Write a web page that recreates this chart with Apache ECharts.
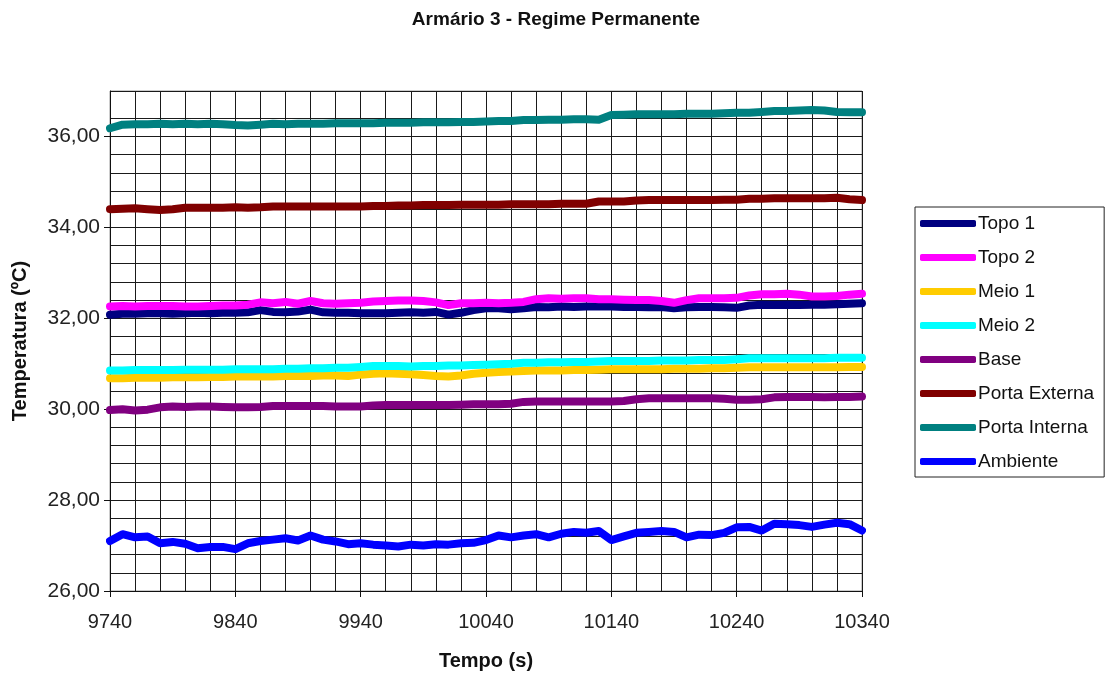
<!DOCTYPE html>
<html>
<head>
<meta charset="utf-8">
<script src="https://cdn.jsdelivr.net/npm/echarts@6/dist/echarts.min.js"></script>
<style>
html,body{margin:0;padding:0;background:#fff;}
#chart{width:1109px;height:673px;}
</style>
</head>
<body>
<div id="chart"></div>
<script>
const title = 'Armário 3 - Regime Permanente';
const xName = 'Tempo (s)';
const yName = 'Temperatura (ºC)';
const xTickLabels = [9740, 9840, 9940, 10040, 10140, 10240, 10340];
const yTickLabels = [26, 28, 30, 32, 34, 36];
const tempo = [9740,9750,9760,9770,9780,9790,9800,9810,9820,9830,9840,9850,9860,9870,9880,9890,9900,9910,9920,9930,9940,9950,9960,9970,9980,9990,10000,10010,10020,10030,10040,10050,10060,10070,10080,10090,10100,10110,10120,10130,10140,10150,10160,10170,10180,10190,10200,10210,10220,10230,10240,10250,10260,10270,10280,10290,10300,10310,10320,10330,10340];
const seriesNames = ['Topo 1','Topo 2','Meio 1','Meio 2','Base','Porta Externa','Porta Interna','Ambiente'];
const topo1 = [32.08,32.10,32.10,32.11,32.11,32.10,32.11,32.12,32.11,32.12,32.12,
  32.13,32.18,32.14,32.13,32.15,32.19,32.13,32.12,32.12,32.11,
  32.11,32.11,32.12,32.13,32.12,32.14,32.08,32.12,32.18,32.22,
  32.22,32.20,32.22,32.25,32.24,32.26,32.25,32.26,32.26,32.26,
  32.25,32.25,32.24,32.25,32.22,32.24,32.25,32.25,32.24,32.23,
  32.28,32.30,32.29,32.30,32.29,32.30,32.30,32.31,32.32,32.33];
const topo2 = [32.26,32.27,32.26,32.27,32.27,32.27,32.26,32.26,32.27,32.28,32.28,
  32.30,32.35,32.33,32.36,32.32,32.38,32.33,32.32,32.33,32.34,
  32.37,32.38,32.39,32.39,32.38,32.35,32.29,32.33,32.33,32.34,
  32.33,32.34,32.36,32.42,32.44,32.43,32.44,32.44,32.42,32.42,
  32.41,32.40,32.40,32.38,32.34,32.40,32.44,32.44,32.44,32.45,
  32.50,32.53,32.53,32.54,32.52,32.48,32.48,32.49,32.52,32.54];
const meio1 = [30.68,30.68,30.69,30.69,30.69,30.70,30.70,30.70,30.71,30.71,30.72,
  30.72,30.72,30.72,30.73,30.73,30.73,30.74,30.74,30.73,30.76,
  30.78,30.79,30.78,30.77,30.75,30.73,30.72,30.74,30.78,30.80,
  30.82,30.83,30.84,30.85,30.85,30.85,30.86,30.86,30.87,30.88,
  30.88,30.88,30.88,30.88,30.89,30.89,30.89,30.90,30.90,30.91,
  30.92,30.92,30.92,30.92,30.92,30.92,30.92,30.92,30.93,30.93];
const meio2 = [30.85,30.85,30.86,30.86,30.86,30.86,30.87,30.87,30.87,30.87,30.88,
  30.88,30.88,30.88,30.89,30.89,30.90,30.90,30.91,30.91,30.93,
  30.95,30.95,30.95,30.94,30.95,30.95,30.96,30.96,30.97,30.98,
  30.99,31.00,31.02,31.02,31.03,31.03,31.04,31.04,31.05,31.06,
  31.06,31.06,31.06,31.07,31.07,31.07,31.08,31.08,31.08,31.10,
  31.12,31.12,31.12,31.12,31.12,31.12,31.12,31.13,31.13,31.13];
const base = [29.98,30.00,29.97,29.99,30.04,30.06,30.05,30.06,30.06,30.05,30.04,
  30.04,30.05,30.07,30.07,30.07,30.07,30.07,30.06,30.06,30.06,
  30.08,30.09,30.09,30.09,30.09,30.09,30.09,30.10,30.11,30.11,
  30.11,30.12,30.16,30.17,30.17,30.17,30.17,30.17,30.17,30.17,
  30.18,30.22,30.24,30.24,30.24,30.24,30.24,30.24,30.23,30.21,
  30.21,30.22,30.26,30.27,30.27,30.27,30.26,30.27,30.27,30.28];
const portaExterna = [34.40,34.41,34.42,34.40,34.38,34.40,34.43,34.43,34.43,34.43,34.44,
  34.43,34.44,34.46,34.46,34.46,34.46,34.46,34.46,34.46,34.46,
  34.47,34.47,34.48,34.48,34.49,34.49,34.49,34.50,34.50,34.50,
  34.50,34.51,34.51,34.51,34.51,34.52,34.52,34.52,34.57,34.57,
  34.57,34.59,34.60,34.60,34.60,34.60,34.60,34.60,34.61,34.61,
  34.63,34.63,34.64,34.64,34.64,34.64,34.64,34.65,34.62,34.60];
const portaInterna = [36.18,36.26,36.27,36.27,36.28,36.27,36.28,36.27,36.28,36.27,36.25,
  36.24,36.26,36.28,36.27,36.28,36.28,36.28,36.29,36.29,36.29,
  36.29,36.30,36.30,36.30,36.31,36.31,36.31,36.32,36.32,36.33,
  36.34,36.34,36.36,36.36,36.37,36.37,36.38,36.38,36.37,36.47,
  36.48,36.49,36.49,36.49,36.49,36.50,36.50,36.50,36.51,36.52,
  36.52,36.54,36.56,36.56,36.57,36.58,36.57,36.54,36.53,36.53];
const ambiente = [27.10,27.25,27.18,27.20,27.05,27.08,27.04,26.94,26.97,26.97,26.92,
  27.05,27.10,27.13,27.16,27.11,27.22,27.13,27.09,27.03,27.05,
  27.02,27.00,26.98,27.02,27.00,27.03,27.02,27.05,27.06,27.12,
  27.22,27.18,27.22,27.25,27.18,27.26,27.30,27.28,27.32,27.12,
  27.20,27.28,27.30,27.32,27.30,27.18,27.24,27.23,27.28,27.40,
  27.41,27.33,27.48,27.47,27.45,27.41,27.46,27.50,27.47,27.33];
const seriesValues = [topo1, topo2, meio1, meio2, base, portaExterna, portaInterna, ambiente];
const colors = ['#000080','#FF00FF','#FFCC00','#00FFFF','#800080','#800000','#008080','#0000FF'];

const FONT = 'Liberation Sans, Arial, sans-serif';
const GRID = '#1a1a1a';
// horizontal grid colours per line (26 .. 36.8, 37); the 36.8 line is absent in the original
const hLineColors = [];
for (let k = 0; k < 29; k++) hLineColors.push(k === 27 ? 'rgba(0,0,0,0)' : GRID);

const chart = echarts.init(document.getElementById('chart'), null, {renderer: 'canvas'});
const option = {
  backgroundColor: '#ffffff',
  animation: false,
  title: {
    text: title, left: 551, top: 5, textAlign: 'center',
    textStyle: {fontFamily: FONT, fontSize: 19, fontWeight: 'bold', color: '#111'}
  },
  legend: {
    orient: 'vertical', left: 915, top: 207,
    padding: [6, 10, 5, 5],
    itemGap: 13, itemWidth: 56, itemHeight: 7, icon: 'roundRect',
    borderColor: '#222', borderWidth: 1,
    textStyle: {fontFamily: FONT, fontSize: 19, color: '#111', lineHeight: 21, padding: [0,0,0,-3]},
    data: seriesNames
  },
  grid: {left: 110, top: 91, right: 247, bottom: 82, show: true, borderColor: '#999', borderWidth: 1,
    containLabel: false, outerBoundsMode: 'none'},
  xAxis: [
    {
      type: 'value', min: 9740, max: 10340, position: 'bottom',
      name: xName, nameLocation: 'middle', nameGap: 60,
      nameTextStyle: {fontFamily: FONT, fontSize: 20, fontWeight: 'bold', color: '#111'},
      axisLine: {show: true, lineStyle: {color: '#111', width: 1}},
      axisTick: {show: true, inside: false, length: 6, lineStyle: {color: '#111'}, customValues: xTickLabels},
      axisLabel: {show: true, margin: 21, fontFamily: FONT, fontSize: 20, color: '#222',
        customValues: xTickLabels, formatter: v => String(v)},
      splitLine: {show: false}
    },
    {
      type: 'value', min: 9740, max: 10340, interval: 20, position: 'bottom',
      axisLine: {show: false}, axisTick: {show: false}, axisLabel: {show: false},
      splitLine: {show: true, lineStyle: {color: GRID, width: 1}}
    }
  ],
  yAxis: [
    {
      type: 'value', min: 26, max: 37, position: 'left',
      name: yName, nameLocation: 'middle', nameGap: 80, nameRotate: 90,
      nameTextStyle: {fontFamily: FONT, fontSize: 20, fontWeight: 'bold', color: '#111'},
      axisLine: {show: true, lineStyle: {color: '#111', width: 1}},
      axisTick: {show: true, inside: false, length: 6, lineStyle: {color: '#111'}, customValues: yTickLabels},
      axisLabel: {show: true, margin: 10, fontFamily: FONT, fontSize: 21, color: '#222',
        customValues: yTickLabels, formatter: v => v.toFixed(2).replace('.', ',')},
      splitLine: {show: false}
    },
    {
      type: 'value', min: 26, max: 37, interval: 0.4, position: 'left',
      axisLine: {show: false}, axisTick: {show: false}, axisLabel: {show: false},
      splitLine: {show: true, lineStyle: {color: hLineColors, width: 1}}
    }
  ],
  series: seriesNames.map((n, k) => ({
    name: n, type: 'line', xAxisIndex: 0, yAxisIndex: 0,
    data: tempo.map((t, i) => [t, seriesValues[k][i]]),
    showSymbol: false, symbol: 'none', smooth: false,
    lineStyle: {color: colors[k], width: 8, cap: 'round', join: 'round'},
    itemStyle: {color: colors[k]},
    z: 3
  }))
};
chart.setOption(option);
</script>
</body>
</html>
